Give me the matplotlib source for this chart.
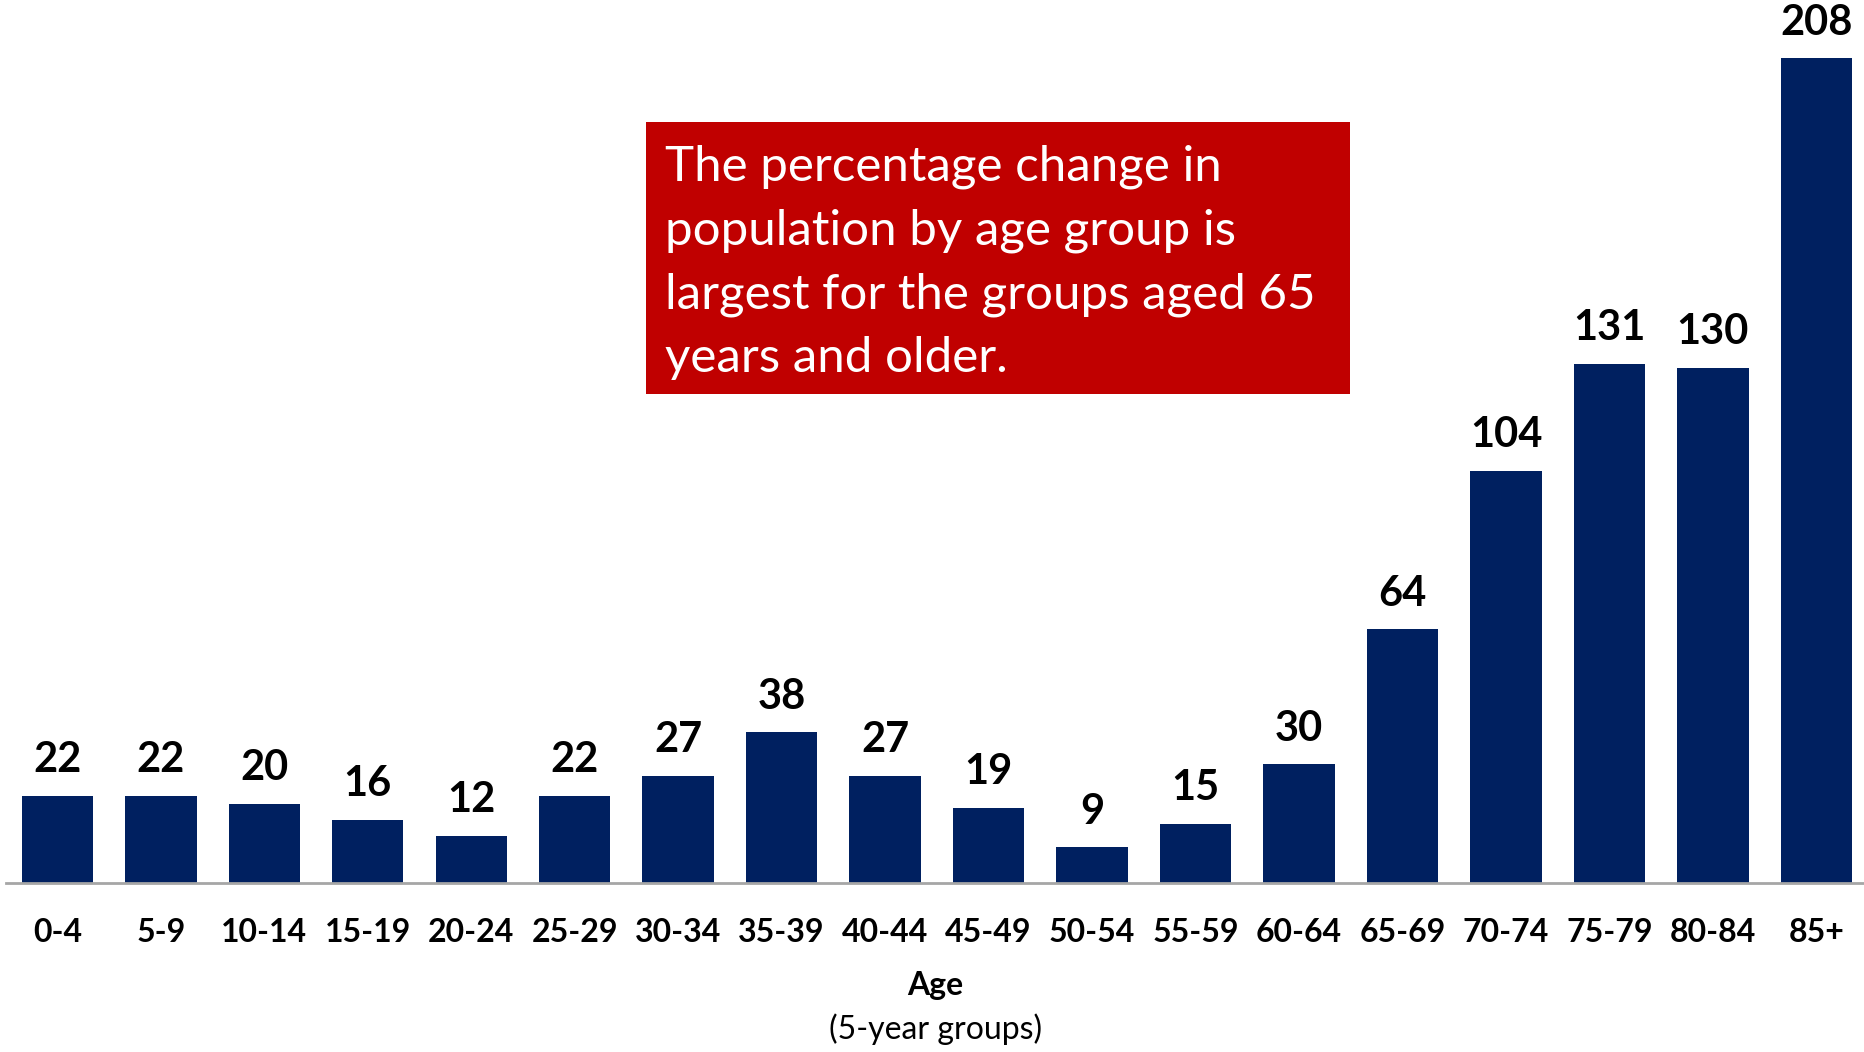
import matplotlib.pyplot as plt
from matplotlib.patches import Rectangle

plt.rcParams['font.family'] = ['Lato', 'DejaVu Sans']

age_groups = ['0-4', '5-9', '10-14', '15-19', '20-24', '25-29', '30-34', '35-39', '40-44',
              '45-49', '50-54', '55-59', '60-64', '65-69', '70-74', '75-79', '80-84', '85+']
pct_change = [22, 22, 20, 16, 12, 22, 27, 38, 27, 19, 9, 15, 30, 64, 104, 131, 130, 208]

navy = '#002060'
red = '#C00000'

fig = plt.figure(figsize=(18.64, 10.52), dpi=100)
ax = fig.add_axes([0.003, 0.1605, 0.997, 0.8395])

x = range(len(age_groups))
bars = ax.bar(x, pct_change, width=0.69, color=navy)

for xi, v in zip(x, pct_change):
    ax.annotate(str(v), (xi, v), xytext=(0, 12), textcoords='offset points',
                ha='center', va='bottom', fontsize=30, fontweight='bold', color='black')

ax.set_xlim(-0.5, 17.46)
ax.set_ylim(0, 222.7)
ax.set_xticks(list(x))
ax.set_xticklabels(age_groups, fontsize=23, fontweight='bold')
ax.tick_params(axis='x', length=0, pad=25)
ax.set_yticks([])
for s in ['top', 'right', 'left']:
    ax.spines[s].set_visible(False)
ax.spines['bottom'].set_color('#A6A6A6')
ax.spines['bottom'].set_linewidth(2)

fig.text(0.502, 0.0633, 'Age', ha='center', va='center', fontsize=23, fontweight='bold')
fig.text(0.502, 0.0215, '(5-year groups)', ha='center', va='center', fontsize=23)

# callout box
fig.patches.append(Rectangle((0.3463, 1 - 0.3741), 0.7245 - 0.3463, 0.3741 - 0.1164,
                             transform=fig.transFigure, facecolor=red, edgecolor='none', zorder=5))
fig.text(0.3565, 1 - 0.137,
         'The percentage change in\npopulation by age group is\nlargest for the groups aged 65\nyears and older.',
         ha='left', va='top', fontsize=35.5, color='white', linespacing=1.54, zorder=6)

fig.savefig('out.png', dpi=100)
